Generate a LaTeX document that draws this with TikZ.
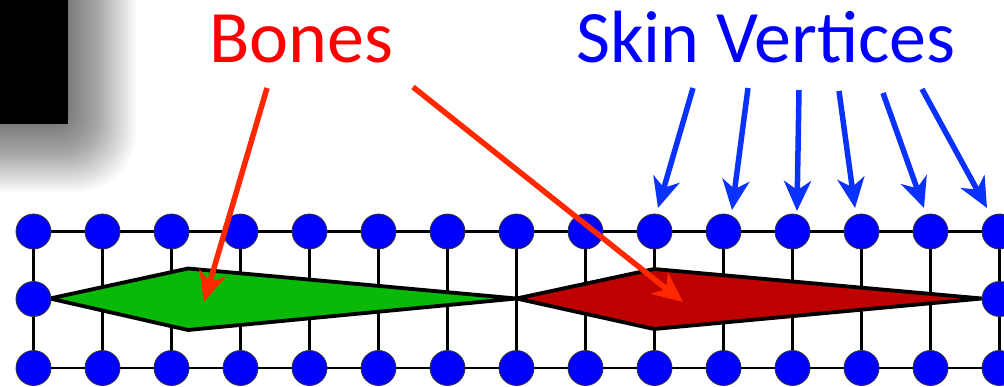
\documentclass[tikz,border=0pt]{standalone}
\usepackage{fontspec}
\setmainfont{Carlito}
\usetikzlibrary{arrows.meta}
\definecolor{vblue}{RGB}{0,0,255}
\definecolor{ablue}{RGB}{10,50,255}
\definecolor{ared}{RGB}{255,40,0}
\definecolor{tred}{RGB}{255,0,0}
\definecolor{bgreen}{RGB}{8,185,8}
\definecolor{bred}{RGB}{190,0,0}
\tikzset{
  vert/.style={circle,fill=vblue,draw=black!80,line width=0.8pt,minimum size=35pt,inner sep=0pt},
  gridline/.style={line width=2.6pt,black},
  bone/.style={draw=black,line width=3.8pt,line join=miter},
  redarrow/.style={ared,line width=5.5pt,-{Stealth[length=30pt,width=27pt,inset=9pt]}},
  bluearrow/.style={ablue,line width=5.5pt,-{Stealth[length=30pt,width=27pt,inset=9pt]}},
  label/.style={font=\fontsize{74}{74}\selectfont,inner sep=0pt}
}
\begin{document}
\begin{tikzpicture}[x=1pt,y=-1pt]
\useasboundingbox (0,0) rectangle (1004,386);
\fill[white] (0,0) rectangle (1004,386);
% shadow
\foreach \i in {0,...,60} {
  \fill[black,opacity=0.013,rounded corners={8+\i*0.9}] (-120,-120) rectangle ({56+\i*1.35},{112+\i*1.35});
}
\fill[black] (0,0) rectangle (68,124);
% vertices
\foreach \c in {0,...,14} {
  \pgfmathsetmacro{\xx}{33.5+69*\c}
  \coordinate (tc\c) at (\xx,231.5);
  \coordinate (bc\c) at (\xx,368);
}
\coordinate (mc0) at (33.5,299);
\coordinate (mc14) at (999.5,299);
\coordinate (tend) at (1010,231.5);
\coordinate (bend) at (1010,368);
\draw[gridline] (tc0) -- (tend);
\draw[gridline] (bc0) -- (bend);
\foreach \c in {0,...,14} { \draw[gridline] (tc\c) -- (bc\c); }
% bones
\draw[bone,fill=bgreen] (50,298.5) -- (188,268.5) -- (516.5,298.5) -- (188,330) -- cycle;
\draw[bone,fill=bred] (516.5,298.5) -- (654,269) -- (982,298.5) -- (654,329) -- cycle;
\coordinate (g) at (204,302);
\coordinate (r) at (683,302);
\foreach \c in {0,...,14} {
  \node[vert] (t\c) at (tc\c) {};
  \node[vert] (b\c) at (bc\c) {};
}
\node[vert] (m0) at (mc0) {};
\node[vert] (m14) at (mc14) {};
% labels
\node[label,text=tred,anchor=base] (bones) at (301,62) {Bones};
\node[label,text=vblue,anchor=base] (skin) at (766,62) {Skin Vertices};
% arrows
\coordinate (rs1) at (267,88);
\coordinate (rs2) at (413,87);
\draw[redarrow] (rs1) -- (g);
\draw[redarrow] (rs2) -- (r);
\coordinate (s1) at (693,88);
\coordinate (s2) at (748,88);
\coordinate (s3) at (799,90);
\coordinate (s4) at (839,91);
\coordinate (s5) at (883,93);
\coordinate (s6) at (922,89);
\coordinate (e1) at (658,208);
\coordinate (e2) at (732,210);
\coordinate (e3) at (797,211);
\coordinate (e4) at (855,208);
\coordinate (e5) at (924,208);
\coordinate (e6) at (987,208);
\foreach \k in {1,...,6} { \draw[bluearrow] (s\k) -- (e\k); }
\end{tikzpicture}
\end{document}
